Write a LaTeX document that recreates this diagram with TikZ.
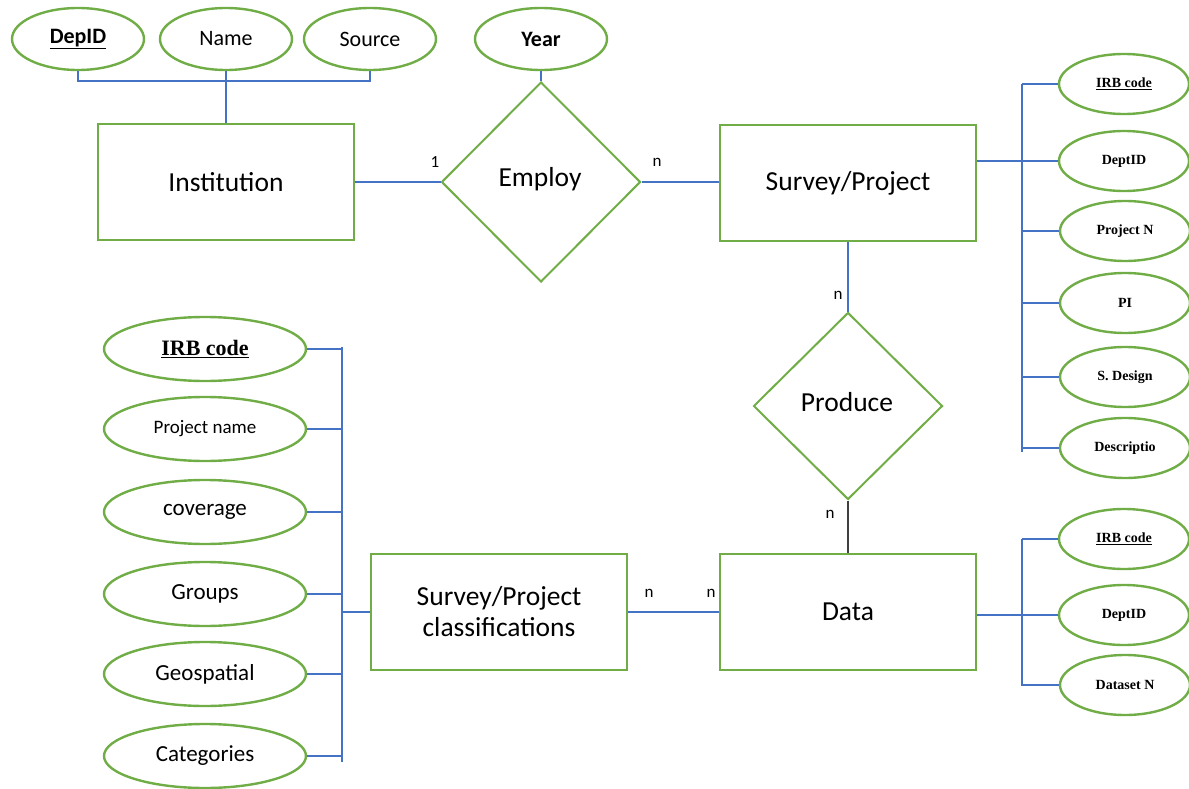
\documentclass[tikz,border=0pt]{standalone}
\usepackage{fontspec}
\setmainfont{Carlito}
\newfontfamily\tnr{Liberation Serif}
\usetikzlibrary{shapes.geometric}
\definecolor{egreen}{RGB}{112,173,71}
\definecolor{eblue}{RGB}{68,114,196}
\begin{document}
\begin{tikzpicture}[x=1pt,y=-1pt,
  ent/.style={draw=egreen,line width=2.4pt,minimum width=256pt,minimum height=116pt,inner sep=0pt,font=\fontsize{27.5}{31}\selectfont,align=center},
  rel/.style={diamond,draw=egreen,line width=2pt,inner sep=0pt},
  rlab/.style={font=\fontsize{27.5}{31}\selectfont},
  attr/.style={ellipse,draw=egreen,line width=2.4pt,inner sep=0pt,minimum width=132pt,minimum height=62pt,font=\fontsize{22}{26}\selectfont},
  lattr/.style={attr,minimum width=202pt,minimum height=64pt,font=\fontsize{23}{27}\selectfont},
  rattr/.style={attr,minimum width=130pt,minimum height=60pt,font=\tnr\bfseries\fontsize{14}{16}\selectfont},
  conn/.style={draw=eblue,line width=1.2pt},
  card/.style={inner sep=0pt,font=\fontsize{17}{19}\selectfont}]
\useasboundingbox (0,0) rectangle (1189,789);

% entities
\node[ent] (inst) at (226,182) {Institution};
\node[ent] (sp) at (848,183) {Survey/Project};
\node[ent] (data) at (848,612) {Data};
\node[ent] (spc) at (499,612) {Survey/Project\\classifications};

% relationships
\node[rel,minimum width=199pt,minimum height=200pt] (emp) at (541,182) {};
\node[rlab] at (540,179) {Employ};
\node[rel,minimum width=189pt,minimum height=187pt] (prod) at (848,406) {};
\node[rlab] at (847,402) {Produce};

% top attributes
\node[attr] (dep) at (78,39) {\textbf{\underline{DepID}}};
\node[attr] (name) at (226,39) {Name};
\node[attr] (src) at (370,39) {Source};
\node[attr] (year) at (541,39) {\textbf{Year}};

% survey/project attributes
\node[rattr] (a1) at (1124,84) {\underline{IRB code}};
\node[rattr] (a2) at (1124,161) {DeptID};
\node[rattr] (a3) at (1125,231) {Project N};
\node[rattr] (a4) at (1125,303) {PI};
\node[rattr] (a5) at (1125,377) {S. Design};
\node[rattr] (a6) at (1125,448) {Descriptio};

% data attributes
\node[rattr] (d1) at (1124,539) {\underline{IRB code}};
\node[rattr] (d2) at (1124,615) {DeptID};
\node[rattr] (d3) at (1125,685) {Dataset N};

% classification attributes
\node[lattr,font=\tnr\bfseries\fontsize{22}{26}\selectfont] (c1) at (205,349) {\underline{IRB code}};
\node[lattr,font=\fontsize{19}{22}\selectfont] (c2) at (205,429) {Project name};
\node[lattr] (c3) at (205,512) {coverage};
\node[lattr] (c4) at (205,594) {Groups};
\node[lattr] (c5) at (205,674) {Geospatial};
\node[lattr] (c6) at (205,756) {Categories};

% bus coordinates
\coordinate (tb) at (226,81);
\coordinate (rbt) at (1022,84);
\coordinate (rbb) at (1022,452);
\coordinate (dbt) at (1022,539);
\coordinate (dbb) at (1022,686);
\coordinate (lbt) at (342,347);
\coordinate (lbb) at (342,762);

% top connectors
\draw[conn] (dep.south) |- (tb) -| (src.south);
\draw[conn] (name.south) -- (inst.north);
\draw[conn] (year.south) -- (emp.north);
\draw[conn] (inst.east) -- (emp.west);
\draw[conn] (emp.east) -- (sp.west |- emp.east);
\node[card] at (435,162) {1};
\node[card] at (657,162) {n};

% survey/project attributes connectors
\draw[conn] (rbt) -- (rbb);
\draw[conn] (sp.east |- a2) -- (a2.west);
\foreach \a in {a1,a3,a4,a5,a6} \draw[conn] (\a.west -| rbt) -- (\a.west);

% produce
\draw[conn] (sp.south) -- (prod.north);
\draw[draw=black!75,line width=1.2pt] (prod.south) -- (data.north);
\node[card] at (838,295) {n};
\node[card] at (830,514) {n};

% data attributes connectors
\draw[conn] (dbt) -- (dbb);
\draw[conn] (data.east |- d2) -- (d2.west);
\foreach \a in {d1,d3} \draw[conn] (\a.west -| dbt) -- (\a.west);

% classifications
\draw[conn] (spc.east) -- (data.west);
\node[card] at (649,593) {n};
\node[card] at (711,593) {n};
\draw[conn] (lbt) -- (lbb);
\draw[conn] (lbt |- spc.west) -- (spc.west);
\foreach \a in {c1,c2,c3,c4,c5,c6} \draw[conn] (\a.east) -- (\a.east -| lbt);
\end{tikzpicture}
\end{document}
